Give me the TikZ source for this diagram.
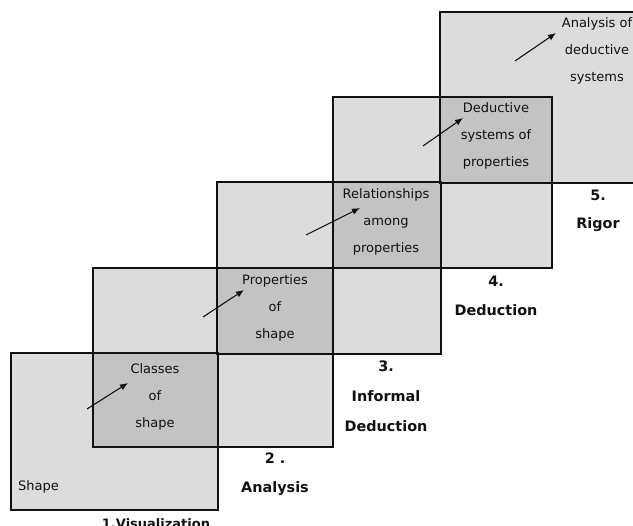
\documentclass[tikz,border=0pt]{standalone}
\usepackage{fontspec}
\setmainfont{DejaVu Sans}
\usetikzlibrary{positioning, arrows.meta}
\definecolor{Pale}{HTML}{DCDCDC}
\definecolor{Shade}{HTML}{C3C3C3}
\definecolor{Ink}{HTML}{111111}
\tikzset{
    levelbox/.style={draw=Ink, line width=1.8pt},
    innertext/.style={align=center, inner sep=0pt, text=Ink, font={\fontsize{13pt}{27pt}\selectfont}},
    leveltext/.style={align=center, inner sep=0pt, text=Ink, font={\fontsize{14.4pt}{28.5pt}\selectfont\bfseries}},
    steparrow/.style={-{Latex[length=8pt, width=6.5pt]}, line width=1.1pt, color=Ink},
}

\begin{document}
\begin{tikzpicture}[x=1pt, y=-1pt]
    \useasboundingbox (0,0) rectangle (633,526);

    % Livelli (quadrati chiari)
    \fill[Pale] (11,353) rectangle (218,510);
    \fill[Pale] (93,268) rectangle (333,447);
    \fill[Pale] (217,182) rectangle (441,354);
    \fill[Pale] (333,97) rectangle (552,268);
    \fill[Pale] (440,12) rectangle (645,183);

    % Sovrapposizioni (scure)
    \fill[Shade] (93,353) rectangle (218,447);
    \fill[Shade] (217,268) rectangle (333,354);
    \fill[Shade] (333,182) rectangle (441,268);
    \fill[Shade] (440,97) rectangle (552,183);

    % Bordi
    \draw[levelbox] (11,353) rectangle (218,510);
    \draw[levelbox] (93,268) rectangle (333,447);
    \draw[levelbox] (217,182) rectangle (441,354);
    \draw[levelbox] (333,97) rectangle (552,268);
    \draw[levelbox] (440,12) rectangle (645,183);

    % Testi interni
    \node[innertext, anchor=west] (shape) at (18,487) {Shape};
    \node[innertext] (classes) at (155,397) {Classes\\of\\shape};
    \node[innertext] (props) at (275,308) {Properties\\of\\shape};
    \node[innertext] (relations) at (386,222) {Relationships\\among\\properties};
    \node[innertext] (deductive) at (496,136) {Deductive\\systems of\\properties};
    \node[innertext] (analysis) at (597,51) {Analysis of\\deductive\\systems};

    % Frecce
    \coordinate (a1) at (87,409);   \coordinate (b1) at (128,383);
    \coordinate (a2) at (203,317);  \coordinate (b2) at (244,290);
    \coordinate (a3) at (306,235);  \coordinate (b3) at (360,208);
    \coordinate (a4) at (423,146);  \coordinate (b4) at (463,118);
    \coordinate (a5) at (515,61);   \coordinate (b5) at (556,33);
    \foreach \i in {1,...,5}
        \draw[steparrow] (a\i) -- (b\i);

    % Etichette dei livelli
    \node[leveltext, font={\fontsize{13pt}{14pt}\selectfont\bfseries}, anchor=base] (lvl1) at (156,528.5) {1.Visualization};
    \node[leveltext] (lvl2) at (275,474) {2 .\\Analysis};
    \node[leveltext, font={\fontsize{14.4pt}{30pt}\selectfont\bfseries}] (lvl3) at (386,396) {3.\\Informal\\Deduction};
    \node[leveltext] (lvl4) at (496,296) {4.\\Deduction};
    \node[leveltext] (lvl5) at (598,211) {5.\\Rigor};
\end{tikzpicture}
\end{document}
